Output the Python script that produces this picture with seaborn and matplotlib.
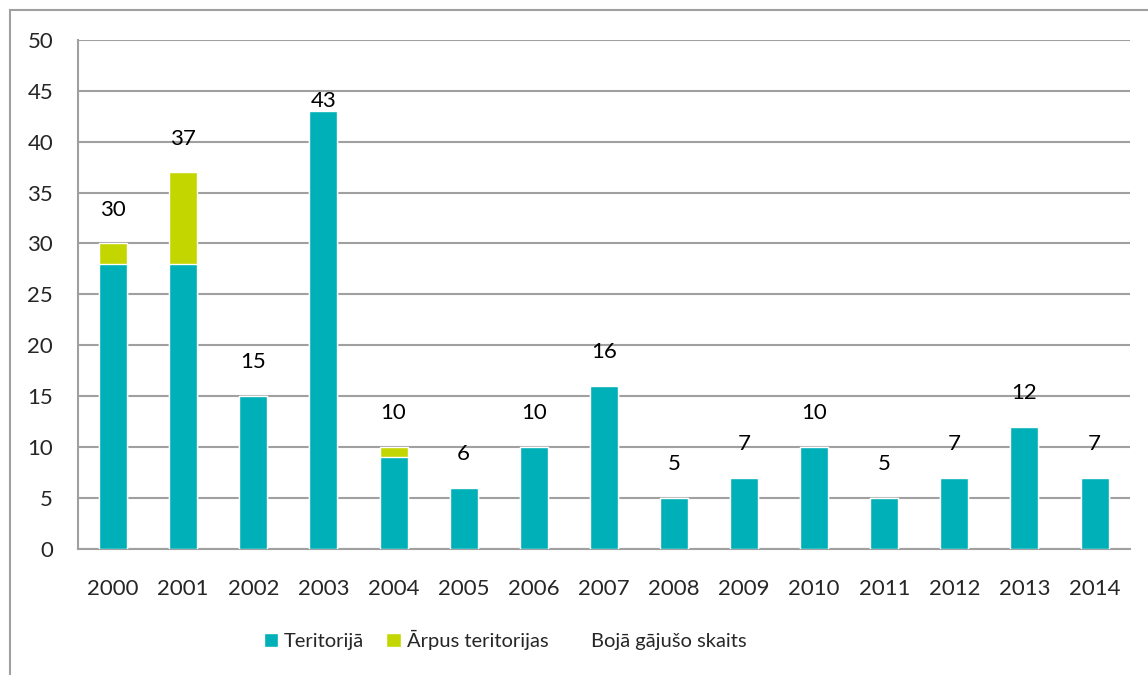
import numpy as np
import pandas as pd
import matplotlib
matplotlib.use("Agg")
import matplotlib.pyplot as plt
from matplotlib.patches import Patch, Rectangle
import seaborn as sns

# ===================== DATA =====================
years = ["2000", "2001", "2002", "2003", "2004", "2005", "2006", "2007",
         "2008", "2009", "2010", "2011", "2012", "2013", "2014"]
inside = [28, 28, 15, 43, 9, 6, 10, 16, 5, 7, 10, 5, 7, 12, 7]
outside = [2, 9, 0, 0, 1, 0, 0, 0, 0, 0, 0, 0, 0, 0, 0]

TEAL = "#00B0B9"
LIME = "#C4D600"
GRID = "#A0A0A0"

df = pd.DataFrame({"year": years, "inside": inside, "outside": outside})
df["total"] = df["inside"] + df["outside"]

# ===================== STYLE =====================
sns.set_style("white")
plt.rcParams["font.family"] = ["Lato", "DejaVu Sans"]

fig = plt.figure(figsize=(11.48, 6.75), dpi=100)
ax = fig.add_axes([0.068, 0.187, 0.916, 0.754])

# stacked: total first (lime), then inside on top (teal)
sns.barplot(data=df, x="year", y="total", color=LIME, width=0.4,
            saturation=1, ax=ax, zorder=3)
sns.barplot(data=df, x="year", y="inside", color=TEAL, width=0.4,
            saturation=1, ax=ax, zorder=3)

ax.set_ylim(0, 50)
ax.set_xlim(-0.5, len(years) - 0.5)
ax.set_yticks(range(0, 51, 5))
ax.yaxis.grid(True, color=GRID, linewidth=1.5, zorder=0)
ax.set_axisbelow(True)
ax.set_xlabel("")
ax.set_ylabel("")

# x ticks between categories, labels centred
ax.set_xticks(np.arange(-0.5, len(years), 1.0))
ax.set_xticklabels([])
ax.set_xticks(range(len(years)), minor=True)
ax.set_xticklabels(years, minor=True)
ax.tick_params(axis="x", which="major", length=8, width=1.5, color=GRID,
               direction="out")
ax.tick_params(axis="x", which="minor", length=0, pad=22, labelsize=16)
ax.tick_params(axis="y", length=8, width=1.5, color=GRID, direction="out",
               labelsize=16, pad=10)

for s in ["top", "right"]:
    ax.spines[s].set_visible(False)
for s in ["left", "bottom"]:
    ax.spines[s].set_color(GRID)
    ax.spines[s].set_linewidth(1.5)

# total labels above bars
for i, t in enumerate(df["total"]):
    y = min(t + 3.3, 44.0)
    ax.text(i, y, str(t), ha="center", va="center", fontsize=16,
            color="black", zorder=4)

# legend
handles = [Patch(facecolor=TEAL, label="Teritorijā"),
           Patch(facecolor=LIME, label="Ārpus teritorijas"),
           Patch(facecolor="none", edgecolor="none", label="Bojā gājušo skaits")]
fig.legend(handles=handles, loc="center", bbox_to_anchor=(0.44, 0.052),
           ncol=3, frameon=False, fontsize=14.5, handlelength=0.7,
           handleheight=0.7, handletextpad=0.3, columnspacing=1.1)

# chart area frame (only top/left visible)
fig.patches.append(Rectangle((10 / 1148, -0.1), 1.2, 0.1 + 1 - 10 / 675,
                             transform=fig.transFigure, fill=False,
                             edgecolor=GRID, linewidth=1.5))

fig.savefig("out.png", dpi=100)
